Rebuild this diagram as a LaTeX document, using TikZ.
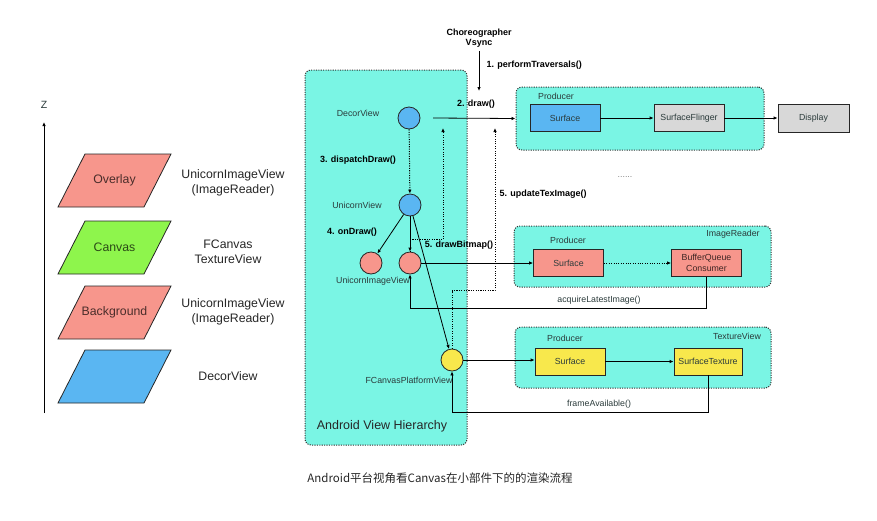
\documentclass[tikz,border=0pt]{standalone}
\usepackage{fontspec}
\setmainfont{Liberation Sans}
\newfontfamily\cjkfont{Noto Sans CJK SC}
\usetikzlibrary{arrows.meta,positioning}
\definecolor{hierc}{HTML}{7AF5E4}
\definecolor{bluec}{HTML}{5AB6F2}
\definecolor{redc}{HTML}{F7968C}
\definecolor{yellc}{HTML}{F8E84C}
\definecolor{greenc}{HTML}{8EF54C}
\definecolor{grayc}{HTML}{D8D8D8}
\definecolor{txtc}{HTML}{2B3B3B}

\begin{document}
\begin{tikzpicture}[x=1pt, y=-1pt,
      every node/.style={font=\fontsize{8.8}{10.5}\selectfont, text=txtc},
      grp/.style={draw=black!80, dash pattern=on 1.1pt off 1.3pt, line width=1pt,
                  rounded corners=6pt, fill=hierc, inner sep=0pt},
      view/.style={circle, draw=black!85, line width=0.8pt, minimum size=22pt, inner sep=0pt},
      buf/.style={draw=black!85, line width=0.8pt, minimum width=70pt, minimum height=27pt,
                  inner sep=1pt, align=center},
      lay/.style={draw=black!85, line width=0.8pt},
      stepl/.style={font=\bfseries\fontsize{9}{10.5}\selectfont, text=black},
      big/.style={font=\fontsize{12.3}{15}\selectfont, text=black!85, align=center},
      arr/.style={-{Latex[length=4pt,width=3.5pt]}, line width=0.8pt},
      dotarr/.style={arr, dash pattern=on 1.1pt off 1.3pt, line width=1pt}]
    \useasboundingbox (0,0) rectangle (877,520);

    % z order of the layers
    \coordinate (zbot) at (44,413);
    \coordinate (ztop) at (44,122);
    \draw[arr] (zbot) -- (ztop);
    \node[font=\fontsize{10.5}{12}\selectfont] (zlab) at (44,105) {Z};
    \foreach \t/\c/\n [count=\i] in {154/redc/Overlay, 221/greenc/Canvas,
                                      286/redc/Background, 350/bluec/{}} {
      \draw[lay, fill=\c] (85,\t) -- ++(86,0) -- ++(-27,53) -- ++(-86,0) -- cycle;
      \node[big, text=\c!30!black] (lay\i) at (114.5,\t+26.5) {\n};
    }
    \node[big] (who1) at (233,183) {UnicornImageView\\(ImageReader)};
    \node[big] (who2) at (228,252) {FCanvas\\TextureView};
    \node[big] (who3) at (233,312) {UnicornImageView\\(ImageReader)};
    \node[big] (who4) at (228,376) {DecorView};

    % groups
    \node[grp, minimum width=162pt, minimum height=375pt] (hier) at (386,257.5) {};
    \node[font=\fontsize{12.5}{15}\selectfont, text=black!85] (hierlab) at (382,426) {Android View Hierarchy};
    \node[grp, minimum width=248pt, minimum height=63pt] (gtop) at (640,118.5) {};
    \node[grp, minimum width=257pt, minimum height=61pt] (gimg) at (642.5,256.5) {};
    \node[grp, minimum width=256pt, minimum height=61pt] (gtex) at (643,357.5) {};
    \node (prod1) at (556,96) {Producer};
    \node (prod2) at (568,240) {Producer};
    \node (prod3) at (565,338) {Producer};
    \node (imgrd) at (733,234) {ImageReader};
    \node (texvw) at (737,336) {TextureView};

    % views
    \node[view, fill=bluec] (decor) at (409,118) {};
    \node[view, fill=bluec] (unicorn) at (410,205) {};
    \node[view, fill=redc] (imgl) at (371,263) {};
    \node[view, fill=redc] (imgr) at (410,263) {};
    \node[view, fill=yellc] (fcv) at (452,360) {};
    \node (decorlab) at (358,113) {DecorView};
    \node (unilab) at (357,205) {UnicornView};
    \node (imglab) at (373,281) {UnicornImageView};
    \node (fcvlab) at (409,380) {FCanvasPlatformView};

    % buffers
    \node[buf, fill=bluec] (surfb) at (565,118) {Surface};
    \node[buf, fill=grayc] (sflinger) at (689,118) {SurfaceFlinger};
    \node[buf, fill=grayc, minimum width=71pt, minimum height=28pt] (display) at (813.5,118) {Display};
    \node[buf, fill=redc] (surfr) at (568.5,263) {Surface};
    \node[buf, fill=redc, text=redc!25!black] (bqc) at (706.5,263) {BufferQueue\\Consumer};
    \node[buf, fill=yellc] (surfy) at (570,361.5) {Surface};
    \node[buf, fill=yellc, minimum width=68pt] (stex) at (708,361.5) {SurfaceTexture};
    \node[text=black!50] (dots) at (625,177) {......};

    % calls
    \node[stepl, align=center] (choreo) at (479,38) {Choreographer\\Vsync};
    \coordinate (vsyncend) at (479,91);
    \draw[arr] (choreo) -- (vsyncend);
    \node[stepl, anchor=west] (s1) at (483,65) {1. performTraversals()};
    \coordinate (drawst) at (433,118);
    \draw[arr] (drawst) -- (gtop.west);
    \node[stepl] (s2) at (476,104) {2. draw()};
    \draw[dotarr] (decor) -- (unicorn);
    \node[stepl] (s3) at (358,160) {3. dispatchDraw()};
    \foreach \v in {imgl, imgr, fcv}
      \draw[arr] (unicorn) -- (\v);
    \node[stepl] (s4) at (352,232) {4. onDraw()};
    \coordinate (bmpend) at (443,128);
    \draw[dotarr] (imgr.north) -- ++(0,-12) -| (bmpend);
    \node[stepl] (s5a) at (459,245) {5. drawBitmap()};
    \coordinate (texend) at (495,128);
    \draw[dotarr] (fcv.north) -- ++(0,-58) -| (texend);
    \node[stepl, anchor=west] (s5b) at (496,194) {5. updateTexImage()};

    \foreach \a/\b in {surfb/sflinger, sflinger/display, surfy/stex}
      \draw[arr] (\a) -- (\b);
    \draw[dotarr] (surfr) -- (bqc);
    \draw[arr] (imgr.east) -- (imgr.east -| surfr.west);
    \draw[arr] (fcv.east) -- (fcv.east -| surfy.west);
    \draw[arr] (bqc.south) -- ++(0,31) -| (imgr.south);
    \node (acq) at (599,300) {acquireLatestImage()};
    \draw[arr] (stex.south) -- ++(0,37) -| (fcv.south);
    \node (frav) at (599,404) {frameAvailable()};

    \node[font=\cjkfont\fontsize{11.5}{13}\selectfont, text=black!85] (cap) at (440,478)
      {Android平台视角看Canvas在小部件下的的渲染流程};
  \end{tikzpicture}
\end{document}
